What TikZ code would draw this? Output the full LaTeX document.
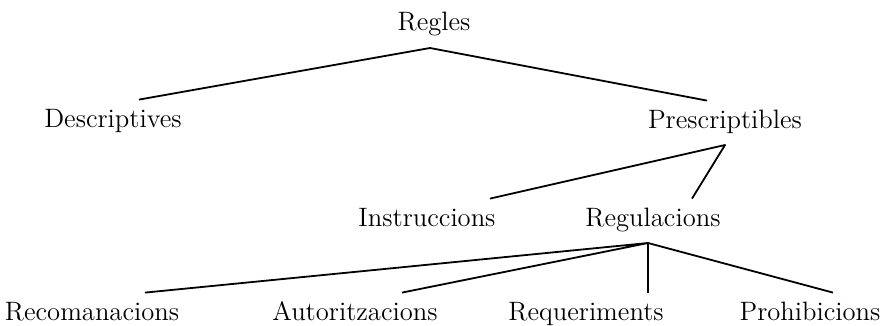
\documentclass[tikz,border=0pt]{standalone}
\begin{document}
\begin{tikzpicture}[
    x=0.5pt, y=-0.5pt,
    term/.style={anchor=base, inner xsep=0pt, inner ysep=4.4pt,
      text height=9.1pt, text depth=3.9pt, font=\fontsize{13.3}{15}\selectfont},
    branch/.style={line width=0.9pt, line join=round},
  ]
    \useasboundingbox (0,0) rectangle (883,326);
    \node[term] (regles) at (434,31)  {Regles};
    \node[term] (descr)  at (113,127) {Descriptives};
    \node[term] (prescr) at (725,128) {Prescriptibles};
    \node[term] (instr)  at (427,226) {Instruccions};
    \node[term] (regul)  at (653,226) {Regulacions};
    \node[term] (recom)  at (92,320)  {Recomanacions};
    \node[term] (autor)  at (355,320) {Autoritzacions};
    \node[term] (requer) at (586,320) {Requeriments};
    \node[term] (prohib) at (810,320) {Prohibicions};
    \draw[branch] ([xshift=13pt]descr.north) -- ([xshift=-2pt]regles.south)
      -- ([xshift=-9pt]prescr.north);
    \draw[branch] ([xshift=31.5pt]instr.north) -- (prescr.south)
      -- ([xshift=19.5pt]regul.north);
    \draw[branch] ([xshift=26.5pt]recom.north) -- ([xshift=-2.5pt]regul.south)
      -- ([xshift=23.5pt]autor.north);
    \draw[branch] ([xshift=-2.5pt]regul.south) -- ([xshift=31pt]requer.north);
    \draw[branch] ([xshift=-2.5pt]regul.south) -- ([xshift=11.5pt]prohib.north);
\end{tikzpicture}
\end{document}
